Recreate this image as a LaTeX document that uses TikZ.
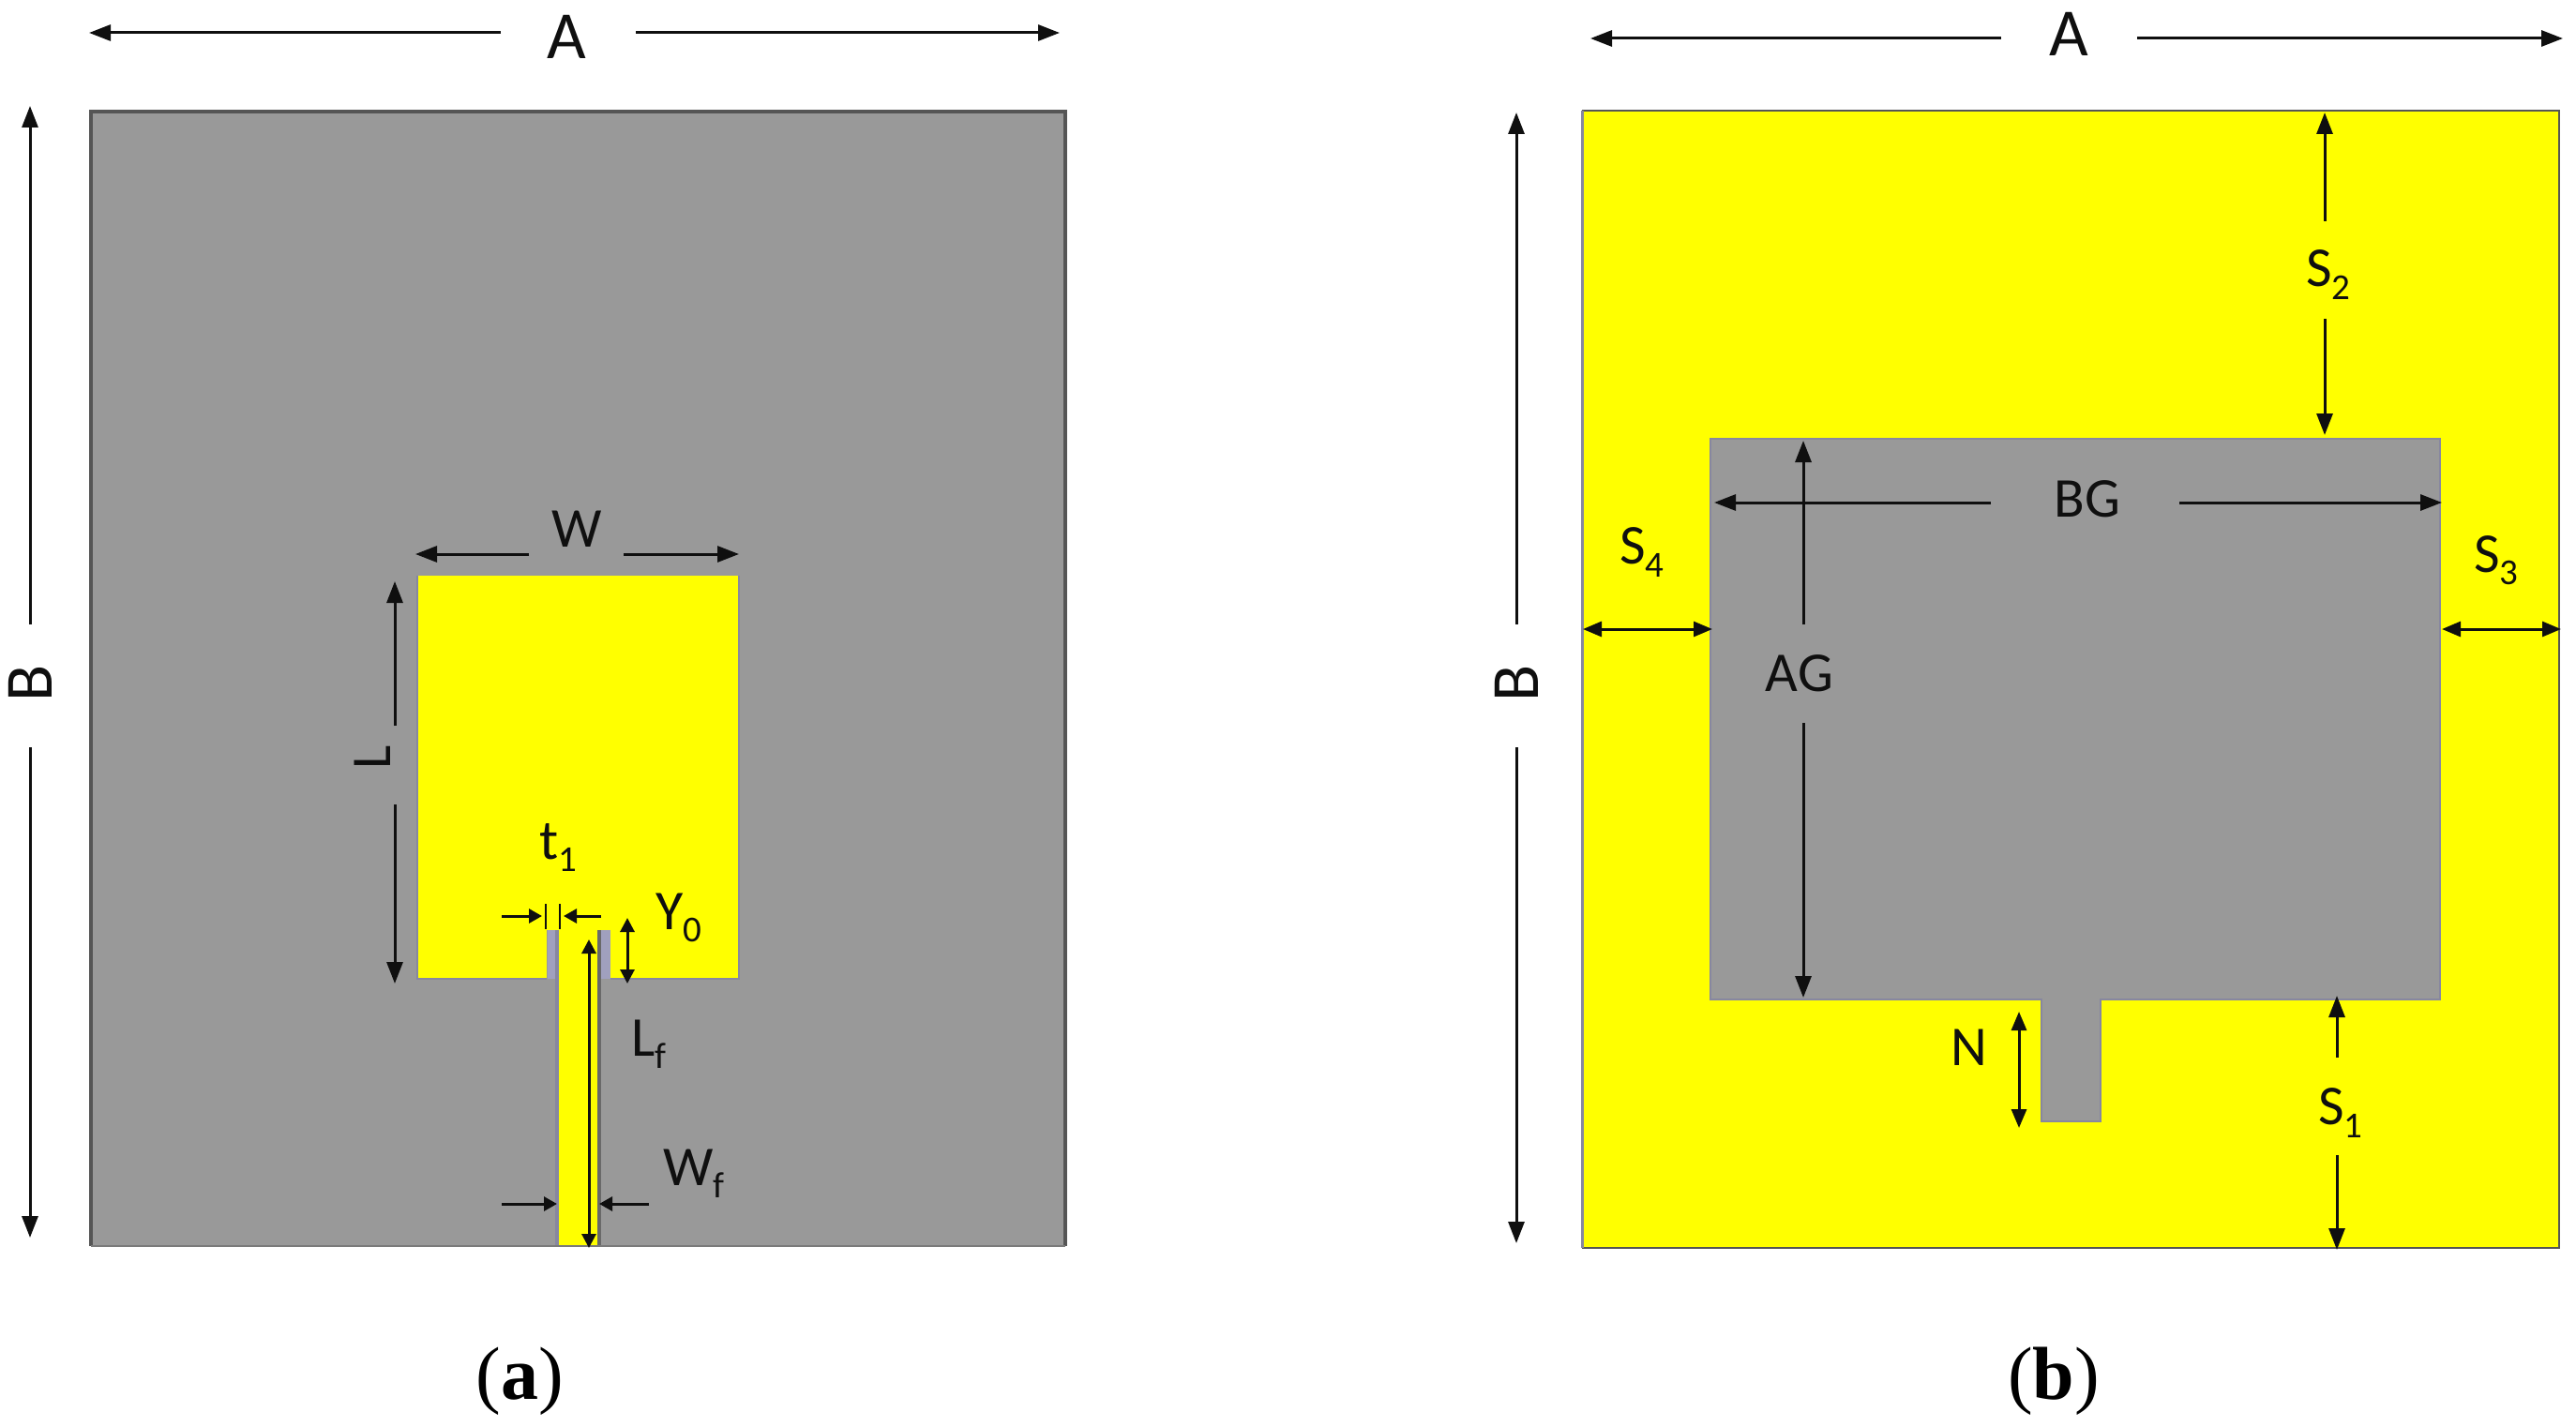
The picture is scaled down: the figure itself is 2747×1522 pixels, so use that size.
\documentclass[tikz,border=0pt]{standalone}
\usepackage{fontspec}
\setmainfont{Carlito}
\newfontfamily\capfont{Liberation Serif}
\usetikzlibrary{arrows.meta}
\definecolor{patchyellow}{RGB}{255,255,0}
\definecolor{subgray}{RGB}{153,153,153}
\definecolor{edgeblue}{RGB}{135,135,160}
\definecolor{slotblue}{RGB}{160,160,190}
\definecolor{edgedark}{RGB}{85,85,85}
\definecolor{inkblack}{RGB}{15,15,15}
\newcommand{\lowsub}[1]{\raisebox{-0.22em}{\fontsize{39}{39}\selectfont #1}}
\tikzset{
  x=1pt,y=-1pt,
  bigdim/.style={draw=inkblack,line width=3pt,-{Triangle[length=23pt,width=17pt]}},
  twodim/.style={draw=inkblack,line width=3pt,{Triangle[length=20pt,width=16pt]}-{Triangle[length=20pt,width=16pt]}},
  smalldim/.style={draw=inkblack,line width=3pt,-{Triangle[length=14pt,width=15pt]}},
  smalltwo/.style={draw=inkblack,line width=3pt,{Triangle[length=15pt,width=15pt]}-{Triangle[length=15pt,width=15pt]}},
  lab/.style={inner sep=0pt,text=inkblack,font=\fontsize{60}{63}\selectfont},
  biglab/.style={lab,font=\fontsize{72}{76}\selectfont},
  caplab/.style={inner sep=0pt,text=black,font=\capfont\fontsize{80}{84}\selectfont},
}
\begin{document}
\begin{tikzpicture}
\useasboundingbox (0,0) rectangle (2747,1522);
% ---------- panel (a)
\fill[subgray] (97,118) rectangle (1136,1329);
\draw[edgedark,line width=4pt] (97,1329) -- (97,119) -- (1136,119) -- (1136,1329);
\draw[subgray!80!black,line width=2pt] (97,1329) -- (1136,1329);
\fill[patchyellow] (445,614) rectangle (788,1044);
\draw[edgeblue,line width=2.5pt] (445,614) -- (445,1044) -- (583,1044) (651,1044) -- (788,1044) -- (788,614);
\fill[subgray] (583,992) rectangle (651,1044);
\fill[slotblue] (584,992) rectangle (594,1044);
\fill[slotblue] (640,992) rectangle (651,1044);
\fill[subgray] (583,1044) rectangle (651,1329);
\fill[patchyellow] (595,990) rectangle (638,1329);
\draw[edgeblue,line width=3.5pt] (594,992) -- (594,1329);
\draw[edgedark!70!subgray,line width=3.5pt] (639,992) -- (639,1329);
\draw[subgray!80!black,line width=2pt] (583,1329) -- (651,1329);
\draw[inkblack,line width=2.5pt] (582,964) -- (582,991) (597,964) -- (597,991);
% ---------- panel (b)
\fill[patchyellow] (1687,118) rectangle (2729,1331);
\draw[edgedark,line width=2.5pt] (1687,118) -- (2729,118) -- (2729,1331) -- (1687,1331);
\draw[edgeblue,line width=3pt] (1687,118) -- (1687,1331);
\fill[subgray] (1824,468) rectangle (2602,1066);
\fill[subgray] (2177,1060) rectangle (2240,1196);
\draw[edgeblue,line width=2pt] (1824,1066) -- (1824,468) -- (2602,468) -- (2602,1066) -- (2240,1066) -- (2240,1196) -- (2177,1196) -- (2177,1066) -- cycle;
% ---------- labels
\node[biglab] (la) at (604,39) {A};
\node[biglab,rotate=90] (lb) at (32,729) {B};
\node[lab] (lw) at (615,564) {W};
\node[lab,rotate=90] (ll) at (397,808) {L};
\node[lab] (lt) at (595,904) {t\lowsub{1}};
\node[lab] (ly) at (724,979) {Y\lowsub{0}};
\node[lab] (lf) at (692,1114) {L\lowsub{f}};
\node[lab] (lwf) at (740,1252) {W\lowsub{f}};
\node[biglab] (ra) at (2206,36) {A};
\node[biglab,rotate=90] (rb) at (1617,729) {B};
\node[lab] (rs2) at (2483,293) {S\lowsub{2}};
\node[lab] (rs4) at (1751,589) {S\lowsub{4}};
\node[lab] (rs3) at (2662,598) {S\lowsub{3}};
\node[lab] (rbg) at (2226,532) {BG};
\node[lab] (rag) at (1919,718) {AG};
\node[lab] (rn) at (2100,1117) {N};
\node[lab] (rs1) at (2496,1187) {S\lowsub{1}};
\node[caplab] (capa) at (554,1473) {(\textbf{a})};
\node[caplab] (capb) at (2190,1473) {(\textbf{b})};
% ---------- connector end points
\coordinate (a1) at (534,35); \coordinate (a2) at (95,35);
\coordinate (a3) at (678,35); \coordinate (a4) at (1130,35);
\coordinate (b1) at (32,666); \coordinate (b2) at (32,113);
\coordinate (b3) at (32,797); \coordinate (b4) at (32,1320);
\coordinate (w1) at (564,591); \coordinate (w2) at (443,591);
\coordinate (w3) at (665,591); \coordinate (w4) at (788,591);
\coordinate (l1) at (421,774); \coordinate (l2) at (421,620);
\coordinate (l3) at (421,858); \coordinate (l4) at (421,1049);
\coordinate (t1) at (535,977); \coordinate (t2) at (578,977);
\coordinate (t3) at (641,977); \coordinate (t4) at (601,977);
\coordinate (y1) at (669,979); \coordinate (y2) at (669,1049);
\coordinate (f1) at (628,1002); \coordinate (f2) at (628,1331);
\coordinate (g1) at (535,1284); \coordinate (g2) at (594,1284);
\coordinate (g3) at (692,1284); \coordinate (g4) at (639,1284);
\coordinate (c1) at (2134,41); \coordinate (c2) at (1696,41);
\coordinate (c3) at (2279,41); \coordinate (c4) at (2733,41);
\coordinate (d1) at (1617,666); \coordinate (d2) at (1617,120);
\coordinate (d3) at (1617,797); \coordinate (d4) at (1617,1326);
\coordinate (s21) at (2479,236); \coordinate (s22) at (2479,120);
\coordinate (s23) at (2479,340); \coordinate (s24) at (2479,464);
\coordinate (s41) at (1688,671); \coordinate (s42) at (1826,671);
\coordinate (s31) at (2604,671); \coordinate (s32) at (2731,671);
\coordinate (bg1) at (2123,536); \coordinate (bg2) at (1828,536);
\coordinate (bg3) at (2324,536); \coordinate (bg4) at (2604,536);
\coordinate (ag1) at (1923,666); \coordinate (ag2) at (1923,470);
\coordinate (ag3) at (1923,771); \coordinate (ag4) at (1923,1064);
\coordinate (n1) at (2153,1079); \coordinate (n2) at (2153,1203);
\coordinate (s11) at (2492,1128); \coordinate (s12) at (2492,1062);
\coordinate (s13) at (2492,1232); \coordinate (s14) at (2492,1333);
% ---------- dimension arrows
\foreach \p/\q in {a1/a2,a3/a4,b1/b2,b3/b4,l1/l2,l3/l4,c1/c2,c3/c4,d1/d2,d3/d4,s21/s22,s23/s24,bg1/bg2,bg3/bg4,ag1/ag2,ag3/ag4,s11/s12,s13/s14,w1/w2,w3/w4}
  \draw[bigdim] (\p) -- (\q);
\foreach \p/\q in {t1/t2,t3/t4,g1/g2,g3/g4}
  \draw[smalldim] (\p) -- (\q);
\foreach \p/\q in {y1/y2,f1/f2}
  \draw[smalltwo] (\p) -- (\q);
\foreach \p/\q in {s41/s42,s31/s32,n1/n2}
  \draw[twodim] (\p) -- (\q);
\end{tikzpicture}
\end{document}
